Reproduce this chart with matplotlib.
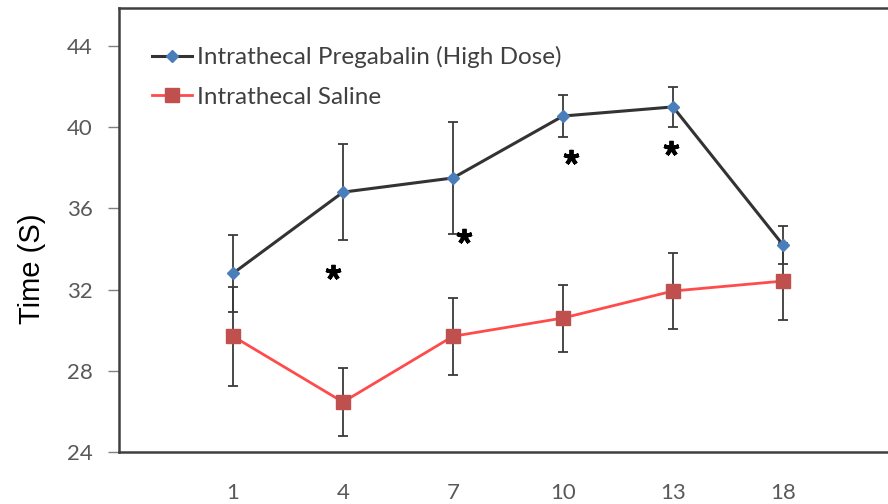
import numpy as np
import matplotlib
matplotlib.use('Agg')
import matplotlib.pyplot as plt

# category labels (days) and the values
days = ['1', '4', '7', '10', '13', '18']
pregabalin = [32.8, 36.8, 37.5, 40.55, 41.0, 34.2]
pregabalin_err = [1.9, 2.37, 2.75, 1.05, 1.0, 0.95]
saline = [29.7, 26.46, 29.7, 30.6, 31.93, 32.42]
saline_err = [2.45, 1.67, 1.9, 1.65, 1.85, 1.9]

# significance stars: category index (slightly offset) and height
star_x = [0.91, 2.1, 3.07, 3.98]
star_y = [32.87, 34.64, 38.53, 38.98]

yticks = [24, 28, 32, 36, 40, 44]

plt.rcParams['font.family'] = ['Lato', 'DejaVu Sans']

fig = plt.figure(figsize=(8.88, 5.04), dpi=100)
W, H = 888, 504
left, right, top, bottom = 119, 888, 8, 452
ax = fig.add_axes([left / W, 1 - bottom / H, (right - left) / W, (bottom - top) / H])

x = np.arange(len(days))

ax.errorbar(x, pregabalin, yerr=pregabalin_err, fmt='none', ecolor='#3a3a3a',
            elinewidth=1.3, capsize=3.5, capthick=1.3, zorder=2)
ax.errorbar(x, saline, yerr=saline_err, fmt='none', ecolor='#3a3a3a',
            elinewidth=1.3, capsize=3.5, capthick=1.3, zorder=2)

ax.plot(x, pregabalin, color='#333333', lw=2.2, marker='D', markersize=6.5,
        markerfacecolor='#4a7ebb', markeredgecolor='#4a7ebb',
        label='Intrathecal Pregabalin (High Dose)', zorder=3)
ax.plot(x, saline, color='#ff4b4b', lw=2.0, marker='s', markersize=10,
        markerfacecolor='#c0504d', markeredgecolor='#c0504d',
        label='Intrathecal Saline', zorder=3)

ax.plot(star_x, star_y, ls='none', marker=(5, 2, 0), markersize=11,
        markeredgewidth=2.8, color='black', zorder=4)

ax.set_xlim((left - 233) / 110, (right - 233) / 110)
ax.set_ylim(24, 24 + (bottom - top) / 20.3)
ax.set_xticks(x)
ax.set_xticklabels(days)
ax.set_yticks(yticks)

ax.tick_params(axis='x', length=0, pad=22, labelsize=16, labelcolor='#595959')
ax.tick_params(axis='y', length=8, width=1, color='#808080', pad=11,
               labelsize=16, labelcolor='#595959')

for side in ['left', 'top', 'bottom']:
    ax.spines[side].set_color('#404040')
    ax.spines[side].set_linewidth(1.8)
ax.spines['right'].set_visible(False)

ax.set_ylabel('Time (S)', fontsize=21, family='Liberation Sans', color='black')
ax.yaxis.set_label_coords((46 - left) / (right - left), (bottom - 269) / (bottom - top))

ax.legend(loc='upper left', bbox_to_anchor=(152 / W, 1 - 46 / H),
          bbox_transform=fig.transFigure, frameon=False, fontsize=17.5,
          handlelength=1.65, handletextpad=0.2, labelspacing=0.77,
          borderpad=0, borderaxespad=0, labelcolor='#404040')

fig.savefig('out.png', dpi=100)
